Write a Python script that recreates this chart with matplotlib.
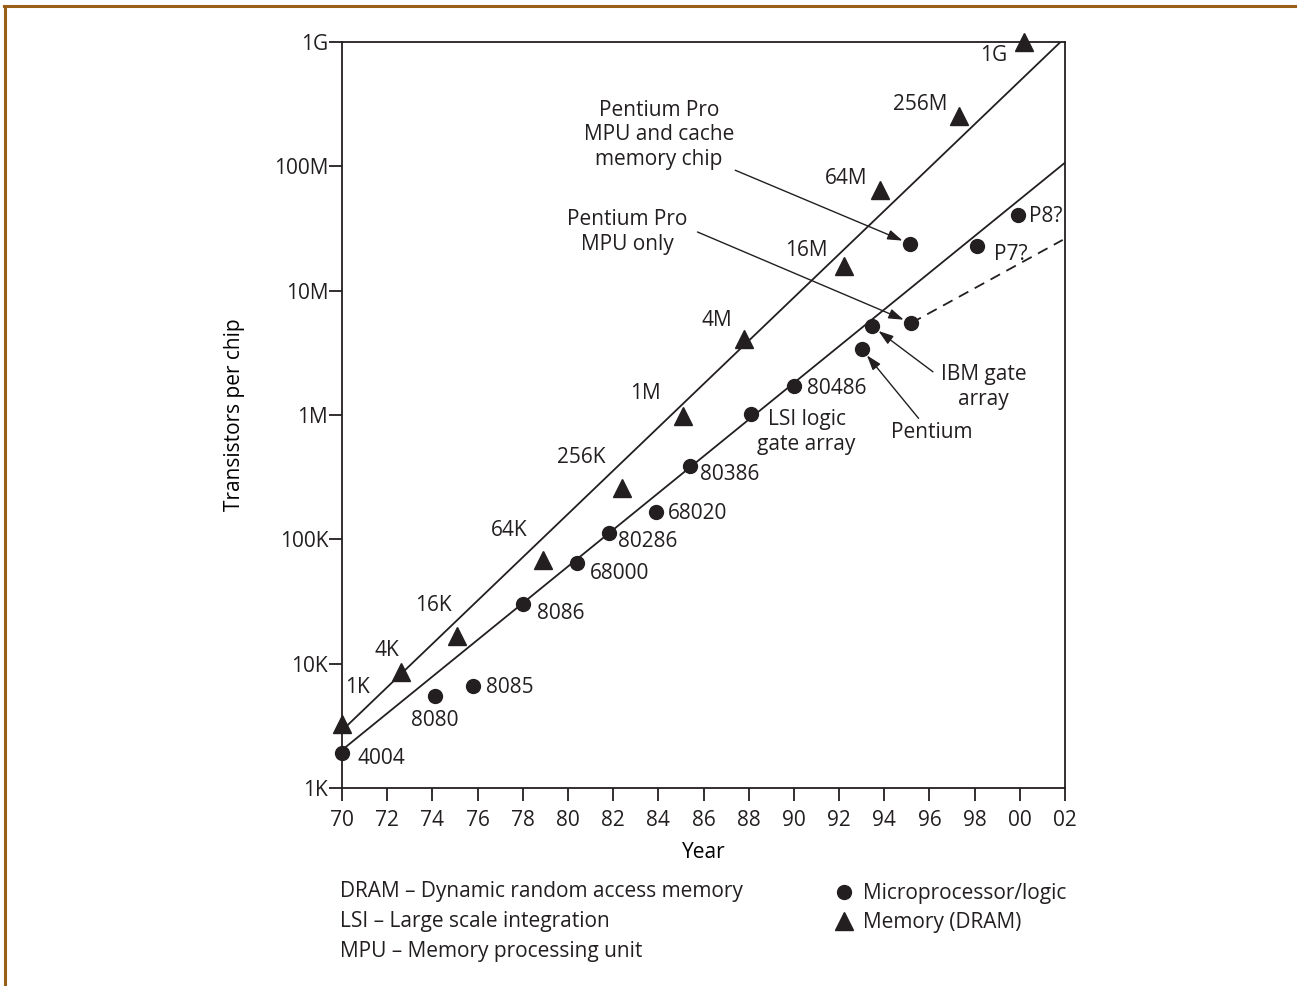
import matplotlib
matplotlib.use("Agg")
import matplotlib.pyplot as plt
from matplotlib.lines import Line2D
import numpy as np

plt.rcParams['font.family'] = ['Open Sans', 'DejaVu Sans']
TXT = '#231f20'
plt.rcParams['text.color'] = TXT

# ---------------- data ----------------
mpu_names = ['4004', '8080', '8085', '8086', '68000', '80286', '68020', '80386',
             'LSI logic\ngate array', '80486', 'Pentium', 'IBM gate\narray',
             'Pentium Pro\nMPU only', 'Pentium Pro\nMPU and cache\nmemory chip', 'P7?', 'P8?']
mpu_years = [70.0, 74.1, 75.8, 78.0, 80.4, 81.8, 83.9, 85.4, 88.1, 90.0, 93.0, 93.45,
             95.2, 95.15, 98.1, 99.9]
mpu_counts = [1.9e3, 5.5e3, 6.6e3, 3.0e4, 6.5e4, 1.13e5, 1.66e5, 3.9e5, 1.02e6, 1.7e6,
              3.4e6, 5.2e6, 5.5e6, 2.38e7, 2.3e7, 4.07e7]

dram_names = ['1K', '4K', '16K', '64K', '256K', '1M', '4M', '16M', '64M', '256M', '1G']
dram_years = [70.0, 72.6, 75.1, 78.9, 82.4, 85.1, 87.8, 92.2, 93.8, 97.3, 100.2]
dram_counts = [3.3e3, 8.6e3, 1.67e4, 6.8e4, 2.6e5, 9.8e5, 4.1e6, 1.58e7, 6.5e7, 2.55e8, 1.0e9]

mem_trend_years = [70.0, 101.8]
mem_trend_counts = [2.9e3, 1.0e9]
mpu_trend_years = [70.0, 102.0]
mpu_trend_counts = [2.02e3, 1.07e8]
proj_trend_years = [95.2, 101.9]
proj_trend_counts = [5.5e6, 2.56e7]

year_ticks = [70, 72, 74, 76, 78, 80, 82, 84, 86, 88, 90, 92, 94, 96, 98, 100, 102]
year_labels = ['70', '72', '74', '76', '78', '80', '82', '84', '86', '88', '90', '92',
               '94', '96', '98', '00', '02']
count_ticks = [1e3, 1e4, 1e5, 1e6, 1e7, 1e8, 1e9]
count_labels = ['1K', '10K', '100K', '1M', '10M', '100M', '1G']

# ---------------- figure ----------------
W, H = 1297, 986
fig = plt.figure(figsize=(W / 100, H / 100), dpi=100)
ax = fig.add_axes([342 / W, 1 - 788 / H, (1065 - 342) / W, (788 - 42) / H])
ax.set_yscale('log')
ax.set_xlim(70, 102)
ax.set_ylim(1e3, 1e9)

FS = 15
LW = 1.3
LS = 1.2
for s in ax.spines.values():
    s.set_linewidth(LW)
    s.set_color(TXT)

ax.set_xticks(year_ticks)
ax.set_xticklabels(year_labels)
ax.set_yticks(count_ticks)
ax.set_yticklabels(count_labels)
ax.yaxis.set_minor_locator(matplotlib.ticker.NullLocator())
ax.tick_params(axis='both', direction='out', length=9.5, width=LW, colors=TXT,
               labelsize=FS)
ax.tick_params(axis='x', pad=6)
ax.tick_params(axis='y', pad=0.5)

ax.set_xlabel('Year', fontsize=FS)
ax.set_ylabel('Transistors per chip', fontsize=FS)
ax.xaxis.set_label_coords(0.5, (788 - 842) / 746)
ax.yaxis.set_label_coords((245 - 342) / 723, 0.5)

# trend lines
ax.plot(mem_trend_years, mem_trend_counts, color=TXT, lw=LW)
ax.plot(mpu_trend_years, mpu_trend_counts, color=TXT, lw=LW)
ax.plot(proj_trend_years, proj_trend_counts, color=TXT, lw=LW, ls=(0, (6, 4)))

# markers
ax.plot(mpu_years, mpu_counts, 'o', color=TXT, ms=10, clip_on=False, zorder=5)
ax.plot(dram_years, dram_counts, '^', color=TXT, ms=13, clip_on=False, zorder=5)

# point labels (offsets in points)
simple_mpu = {
    '4004': (11, -4, 'left'), '8080': (0, -18, 'center'), '8085': (9, -1, 'left'),
    '8086': (10, -6.5, 'left'), '68000': (9.4, -8, 'left'), '80286': (7, -6.5, 'left'),
    '68020': (8.6, -1, 'left'), '80386': (7, -6.5, 'left'),
    'LSI logic\ngate array': (40, -13, 'center'), '80486': (9.4, -1.5, 'left'),
    'P7?': (12, -6, 'left'), 'P8?': (8, -1.5, 'left'),
}
for name, x, y in zip(mpu_names, mpu_years, mpu_counts):
    if name in simple_mpu:
        dx, dy, ha = simple_mpu[name]
        ax.annotate(name, (x, y), xytext=(dx, dy), textcoords='offset points',
                    ha=ha, va='center', fontsize=FS, multialignment='center',
                    linespacing=LS)

dram_off = {
    '1K': (11, 26), '4K': (-10, 15), '16K': (-17, 22), '64K': (-24.5, 21.6),
    '256K': (-29.5, 22), '1M': (-27, 16), '4M': (-19.5, 13), '16M': (-26.6, 11),
    '64M': (-24, 8), '256M': (-28, 8), '1G': (-22, -9.4),
}
for name, x, y in zip(dram_names, dram_years, dram_counts):
    dx, dy = dram_off[name]
    ax.annotate(name, (x, y), xytext=(dx, dy), textcoords='offset points',
                ha='center', va='center', fontsize=FS)

# callouts with arrows: (text offset, arrow tail offset)
callouts = {
    'Pentium Pro\nMPU and cache\nmemory chip': ((-181, 78.5), (-126, 53)),
    'Pentium Pro\nMPU only': ((-204.5, 65.5), (-154, 65.5)),
    'IBM gate\narray': ((80.6, -44), (44, -33)),
    'Pentium': ((50.4, -60.5), (41, -50)),
}
for name, x, y in zip(mpu_names, mpu_years, mpu_counts):
    if name in callouts:
        (tx, ty), (ax_, ay_) = callouts[name]
        ax.annotate(name, (x, y), xytext=(tx, ty), textcoords='offset points',
                    ha='center', va='center', fontsize=FS, multialignment='center',
                    linespacing=LS)
        ax.annotate('', (x, y), xytext=(ax_, ay_), textcoords='offset points',
                    arrowprops=dict(arrowstyle='-|>,head_length=0.9,head_width=0.3',
                                    color=TXT, lw=1.0, shrinkA=0, shrinkB=6))

# bottom notes
notes = ['DRAM – Dynamic random access memory', 'LSI – Large scale integration',
         'MPU – Memory processing unit']
for i, t in enumerate(notes):
    fig.text(340 / W, 1 - (892 + 29.5 * i) / H, t, fontsize=FS, ha='left', va='center')

handles = [Line2D([], [], marker='o', ls='none', color=TXT, ms=10),
           Line2D([], [], marker='^', ls='none', color=TXT, ms=13)]
fig.legend(handles, ['Microprocessor/logic', 'Memory (DRAM)'], loc='upper left',
           bbox_to_anchor=(834 / W, 1 - 883 / H), frameon=False, fontsize=FS,
           handlelength=1.0, handletextpad=0.37, labelspacing=0.4, borderpad=0,
           borderaxespad=0)

# frame border (top and left)
BR = '#9a5f17'
fig.add_artist(Line2D([5 / W, 5 / W], [0, 1 - 6 / H], transform=fig.transFigure,
                      color=BR, lw=2.2))
fig.add_artist(Line2D([4 / W, 1], [1 - 6 / H, 1 - 6 / H], transform=fig.transFigure,
                      color=BR, lw=2.2))

fig.savefig('out.png', dpi=100, facecolor='white')
